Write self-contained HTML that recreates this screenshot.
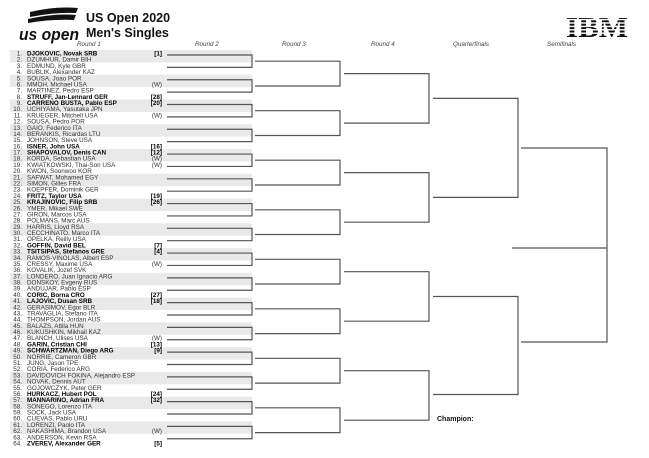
<!DOCTYPE html>
<html><head><meta charset="utf-8"><style>
html,body{margin:0;padding:0;background:#fff;}
svg{display:block;}
.n{font:6.3px "Liberation Sans",sans-serif;fill:#333;}
.b{font-weight:bold;fill:#000;}
.r{font:italic 6.3px "Liberation Sans",sans-serif;fill:#444;}
</style></head><body>
<svg width="649" height="458" viewBox="0 0 649 458" xmlns="http://www.w3.org/2000/svg">
<!-- logo -->
<path d="M30 12 Q55 6 78 8 L76 13 Q55 12 30 17 Z" fill="#111"/>
<path d="M28 19 Q55 13 76 15 L74 20 Q52 19 28 23 Z" fill="#111"/>
<text x="19" y="40" textLength="60" lengthAdjust="spacingAndGlyphs" style="font:italic bold 17px 'Liberation Sans',sans-serif;fill:#111">us open</text>
<text x="86" y="22" style="font:bold 12.5px 'Liberation Sans',sans-serif;fill:#111">US Open 2020</text>
<text x="86" y="37" style="font:bold 12.5px 'Liberation Sans',sans-serif;fill:#111">Men's Singles</text>
<!-- IBM -->
<text x="566" y="37" textLength="62" lengthAdjust="spacingAndGlyphs" style="font:bold 28px 'Liberation Serif',serif;fill:#111">IBM</text>
<g fill="#fff"><rect x="563" y="15.5" width="70" height="1.4"/><rect x="563" y="18.9" width="70" height="1.4"/><rect x="563" y="22.3" width="70" height="1.4"/><rect x="563" y="25.7" width="70" height="1.4"/><rect x="563" y="29.1" width="70" height="1.4"/><rect x="563" y="32.5" width="70" height="1.4"/></g>
<!-- round labels -->
<text class="r" x="77" y="46">Round 1</text>
<text class="r" x="195" y="46">Round 2</text>
<text class="r" x="282" y="46">Round 3</text>
<text class="r" x="371" y="46">Round 4</text>
<text class="r" x="453" y="46">Quarterfinals</text>
<text class="r" x="547" y="46">Semifinals</text>
<!-- grey bands -->
<g fill="#e9e9e9">
<rect x="10" y="50" width="242" height="12.4"/><rect x="10" y="74.76" width="242" height="12.4"/><rect x="10" y="99.52" width="242" height="12.4"/><rect x="10" y="124.28" width="242" height="12.4"/>
<rect x="10" y="149.04" width="242" height="12.4"/><rect x="10" y="173.8" width="242" height="12.4"/><rect x="10" y="198.56" width="242" height="12.4"/><rect x="10" y="223.32" width="242" height="12.4"/>
<rect x="10" y="248.08" width="242" height="12.4"/><rect x="10" y="272.84" width="242" height="12.4"/><rect x="10" y="297.6" width="242" height="12.4"/><rect x="10" y="322.36" width="242" height="12.4"/>
<rect x="10" y="347.12" width="242" height="12.4"/><rect x="10" y="371.88" width="242" height="12.4"/><rect x="10" y="396.64" width="242" height="12.4"/><rect x="10" y="421.4" width="242" height="12.4"/>
</g>
<!-- bracket lines -->
<g fill="none" stroke="#555" stroke-width="1.2">
<path d="M167 55H252V67.38H167M167 79.76H252V92.14H167M167 104.52H252V116.9H167M167 129.28H252V141.66H167M167 154.04H252V166.42H167M167 178.8H252V191.18H167M167 203.56H252V215.94H167M167 228.32H252V240.7H167M167 253.08H252V265.46H167M167 277.84H252V290.22H167M167 302.6H252V314.98H167M167 327.36H252V339.74H167M167 352.12H252V364.5H167M167 376.88H252V389.26H167M167 401.64H252V414.02H167M167 426.4H252V438.78H167"/>
<path d="M255 61.2H340V86H255M255 110.7H340V135.5H255M255 160.2H340V185H255M255 209.8H340V234.5H255M255 259.3H340V284H255M255 308.8H340V333.6H255M255 358.3H340V383.1H255M255 407.8H340V432.6H255"/>
<path d="M344 73.6H429V123.1H344M344 172.6H429V222.2H344M344 271.7H429V321.2H344M344 370.7H429V420.2H344"/>
<path d="M433 98.4H518V197.4H433M433 296.5H518V394.5H433"/>
<path d="M521 148H607V342H521M512 248H607"/>
</g>
<text x="437" y="421" style="font:bold 7px 'Liberation Sans',sans-serif;fill:#111">Champion:</text>
<!-- players -->
<g class="n" text-anchor="end">
<text x="22" y="55.5">1.</text><text x="22" y="61.7">2.</text><text x="22" y="67.9">3.</text><text x="22" y="74.1">4.</text><text x="22" y="80.3">5.</text><text x="22" y="86.5">6.</text><text x="22" y="92.6">7.</text><text x="22" y="98.8">8.</text>
<text x="22" y="105">9.</text><text x="22" y="111.2">10.</text><text x="22" y="117.4">11.</text><text x="22" y="123.6">12.</text><text x="22" y="129.8">13.</text><text x="22" y="136">14.</text><text x="22" y="142.2">15.</text><text x="22" y="148.4">16.</text>
<text x="22" y="154.5">17.</text><text x="22" y="160.7">18.</text><text x="22" y="166.9">19.</text><text x="22" y="173.1">20.</text><text x="22" y="179.3">21.</text><text x="22" y="185.5">22.</text><text x="22" y="191.7">23.</text><text x="22" y="197.9">24.</text>
<text x="22" y="204.1">25.</text><text x="22" y="210.3">26.</text><text x="22" y="216.4">27.</text><text x="22" y="222.6">28.</text><text x="22" y="228.8">29.</text><text x="22" y="235">30.</text><text x="22" y="241.2">31.</text><text x="22" y="247.4">32.</text>
<text x="22" y="253.6">33.</text><text x="22" y="259.8">34.</text><text x="22" y="266">35.</text><text x="22" y="272.2">36.</text><text x="22" y="278.3">37.</text><text x="22" y="284.5">38.</text><text x="22" y="290.7">39.</text><text x="22" y="296.9">40.</text>
<text x="22" y="303.1">41.</text><text x="22" y="309.3">42.</text><text x="22" y="315.5">43.</text><text x="22" y="321.7">44.</text><text x="22" y="327.9">45.</text><text x="22" y="334.1">46.</text><text x="22" y="340.2">47.</text><text x="22" y="346.4">48.</text>
<text x="22" y="352.6">49.</text><text x="22" y="358.8">50.</text><text x="22" y="365">51.</text><text x="22" y="371.2">52.</text><text x="22" y="377.4">53.</text><text x="22" y="383.6">54.</text><text x="22" y="389.8">55.</text><text x="22" y="396">56.</text>
<text x="22" y="402.1">57.</text><text x="22" y="408.3">58.</text><text x="22" y="414.5">59.</text><text x="22" y="420.7">60.</text><text x="22" y="426.9">61.</text><text x="22" y="433.1">62.</text><text x="22" y="439.3">63.</text><text x="22" y="445.5">64.</text>
</g>
<g class="n">
<text class="b" x="27" y="55.5">DJOKOVIC, Novak SRB</text>
<text x="27" y="61.7">DZUMHUR, Damir BIH</text>
<text x="27" y="67.9">EDMUND, Kyle GBR</text>
<text x="27" y="74.1">BUBLIK, Alexander KAZ</text>
<text x="27" y="80.3">SOUSA, Joao POR</text>
<text x="27" y="86.5">MMOH, Michael USA</text>
<text x="27" y="92.6">MARTINEZ, Pedro ESP</text>
<text class="b" x="27" y="98.8">STRUFF, Jan-Lennard GER</text>
<text class="b" x="27" y="105">CARRENO BUSTA, Pablo ESP</text>
<text x="27" y="111.2">UCHIYAMA, Yasutaka JPN</text>
<text x="27" y="117.4">KRUEGER, Mitchell USA</text>
<text x="27" y="123.6">SOUSA, Pedro POR</text>
<text x="27" y="129.8">GAIO, Federico ITA</text>
<text x="27" y="136">BERANKIS, Ricardas LTU</text>
<text x="27" y="142.2">JOHNSON, Steve USA</text>
<text class="b" x="27" y="148.4">ISNER, John USA</text>
<text class="b" x="27" y="154.5">SHAPOVALOV, Denis CAN</text>
<text x="27" y="160.7">KORDA, Sebastian USA</text>
<text x="27" y="166.9">KWIATKOWSKI, Thai-Son USA</text>
<text x="27" y="173.1">KWON, Soonwoo KOR</text>
<text x="27" y="179.3">SAFWAT, Mohamed EGY</text>
<text x="27" y="185.5">SIMON, Gilles FRA</text>
<text x="27" y="191.7">KOEPFER, Dominik GER</text>
<text class="b" x="27" y="197.9">FRITZ, Taylor USA</text>
<text class="b" x="27" y="204.1">KRAJINOVIC, Filip SRB</text>
<text x="27" y="210.3">YMER, Mikael SWE</text>
<text x="27" y="216.4">GIRON, Marcos USA</text>
<text x="27" y="222.6">POLMANS, Marc AUS</text>
<text x="27" y="228.8">HARRIS, Lloyd RSA</text>
<text x="27" y="235">CECCHINATO, Marco ITA</text>
<text x="27" y="241.2">OPELKA, Reilly USA</text>
<text class="b" x="27" y="247.4">GOFFIN, David BEL</text>
<text class="b" x="27" y="253.6">TSITSIPAS, Stefanos GRE</text>
<text x="27" y="259.8">RAMOS-VINOLAS, Albert ESP</text>
<text x="27" y="266">CRESSY, Maxime USA</text>
<text x="27" y="272.2">KOVALIK, Jozef SVK</text>
<text x="27" y="278.3">LONDERO, Juan Ignacio ARG</text>
<text x="27" y="284.5">DONSKOY, Evgeny RUS</text>
<text x="27" y="290.7">ANDUJAR, Pablo ESP</text>
<text class="b" x="27" y="296.9">CORIC, Borna CRO</text>
<text class="b" x="27" y="303.1">LAJOVIC, Dusan SRB</text>
<text x="27" y="309.3">GERASIMOV, Egor BLR</text>
<text x="27" y="315.5">TRAVAGLIA, Stefano ITA</text>
<text x="27" y="321.7">THOMPSON, Jordan AUS</text>
<text x="27" y="327.9">BALAZS, Attila HUN</text>
<text x="27" y="334.1">KUKUSHKIN, Mikhail KAZ</text>
<text x="27" y="340.2">BLANCH, Ulises USA</text>
<text class="b" x="27" y="346.4">GARIN, Cristian CHI</text>
<text class="b" x="27" y="352.6">SCHWARTZMAN, Diego ARG</text>
<text x="27" y="358.8">NORRIE, Cameron GBR</text>
<text x="27" y="365">JUNG, Jason TPE</text>
<text x="27" y="371.2">CORIA, Federico ARG</text>
<text x="27" y="377.4">DAVIDOVICH FOKINA, Alejandro ESP</text>
<text x="27" y="383.6">NOVAK, Dennis AUT</text>
<text x="27" y="389.8">GOJOWCZYK, Peter GER</text>
<text class="b" x="27" y="396">HURKACZ, Hubert POL</text>
<text class="b" x="27" y="402.1">MANNARINO, Adrian FRA</text>
<text x="27" y="408.3">SONEGO, Lorenzo ITA</text>
<text x="27" y="414.5">SOCK, Jack USA</text>
<text x="27" y="420.7">CUEVAS, Pablo URU</text>
<text x="27" y="426.9">LORENZI, Paolo ITA</text>
<text x="27" y="433.1">NAKASHIMA, Brandon USA</text>
<text x="27" y="439.3">ANDERSON, Kevin RSA</text>
<text class="b" x="27" y="445.5">ZVEREV, Alexander GER</text>
</g>
<g class="n" text-anchor="end">
<text class="b" x="162" y="55.5">[1]</text>
<text x="162" y="86.5">(W)</text>
<text class="b" x="162" y="98.8">[28]</text>
<text class="b" x="162" y="105">[20]</text>
<text x="162" y="117.4">(W)</text>
<text class="b" x="162" y="148.4">[16]</text>
<text class="b" x="162" y="154.5">[12]</text>
<text x="162" y="160.7">(W)</text>
<text x="162" y="166.9">(W)</text>
<text class="b" x="162" y="197.9">[19]</text>
<text class="b" x="162" y="204.1">[26]</text>
<text class="b" x="162" y="247.4">[7]</text>
<text class="b" x="162" y="253.6">[4]</text>
<text x="162" y="266">(W)</text>
<text class="b" x="162" y="296.9">[27]</text>
<text class="b" x="162" y="303.1">[18]</text>
<text x="162" y="340.2">(W)</text>
<text class="b" x="162" y="346.4">[13]</text>
<text class="b" x="162" y="352.6">[9]</text>
<text class="b" x="162" y="396">[24]</text>
<text class="b" x="162" y="402.1">[32]</text>
<text x="162" y="433.1">(W)</text>
<text class="b" x="162" y="445.5">[5]</text>
</g>
</svg>
</body></html>
